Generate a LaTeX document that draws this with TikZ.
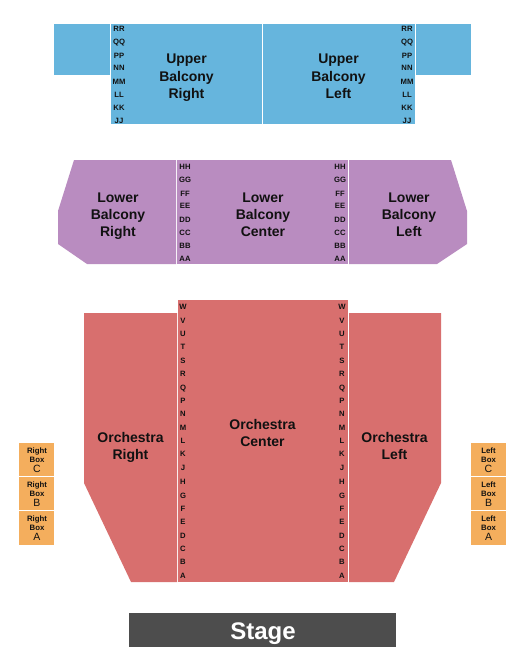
\documentclass[tikz,border=0pt]{standalone}
\usepackage{fontspec}
\setmainfont{Liberation Sans}
\definecolor{upperblue}{HTML}{66B5DD}
\definecolor{lowerpurple}{HTML}{B98CC0}
\definecolor{orchred}{HTML}{D86F6E}
\definecolor{boxorange}{HTML}{F4AE5D}
\definecolor{stagegray}{HTML}{4D4D4D}
\definecolor{labelink}{HTML}{111111}
\tikzset{
  upperfill/.style={fill=upperblue,draw=none},
  lowerfill/.style={fill=lowerpurple,draw=none},
  orchfill/.style={fill=orchred,draw=none},
  boxfill/.style={fill=boxorange,draw=none},
  sectionlabel/.style={anchor=north,align=center,text=labelink,inner sep=0pt,font=\fontsize{14}{17.3}\selectfont\bfseries},
  rowlabel/.style={anchor=base,text=labelink,inner sep=0pt,font=\fontsize{7.7}{8}\selectfont\bfseries},
  boxlabel/.style={anchor=north,align=center,text=labelink,inner sep=0pt,font=\fontsize{7.8}{8.7}\selectfont\bfseries},
  stagelabel/.style={anchor=base,text=white,inner sep=0pt,font=\fontsize{24}{25}\selectfont\bfseries}
}
\newcommand{\rowsat}[3]{%
  \foreach \lab/\yy in {#3}{\node[rowlabel] (row-#1-\lab) at (#2,\yy+3.8) {\lab};}}
\newcommand{\boxletter}[1]{\\[1.8pt]{\fontsize{10.5}{10.5}\selectfont\mdseries #1}}
\begin{document}
\begin{tikzpicture}[x=1pt,y=-1pt]
\useasboundingbox (0,0) rectangle (525,666);
% Upper balcony
\fill[upperfill] (54,24) rectangle (110,75);
\fill[upperfill] (111,24) rectangle (262,124);
\fill[upperfill] (263,24) rectangle (415,124);
\fill[upperfill] (416,24) rectangle (471,75);
\node[sectionlabel] (ubr) at (186.5,54) {Upper\\Balcony\\Right};
\node[sectionlabel] (ubl) at (338.5,54) {Upper\\Balcony\\Left};
\rowsat{ur}{119}{RR/28,QQ/41,PP/55,NN/67,MM/81,LL/94,KK/107,JJ/120}
\rowsat{ul}{407}{RR/28,QQ/41,PP/55,NN/67,MM/81,LL/94,KK/107,JJ/120}
% Lower balcony
\fill[lowerfill] (74,160) -- (176,160) -- (176,264) -- (87,264) -- (58,244) -- (58,211) -- cycle;
\fill[lowerfill] (177,160) rectangle (348,264);
\fill[lowerfill] (349,160) -- (451,160) -- (467,211) -- (467,244) -- (437,264) -- (349,264) -- cycle;
\node[sectionlabel] (lbr) at (118,192.3) {Lower\\Balcony\\Right};
\node[sectionlabel] (lbc) at (263,192.3) {Lower\\Balcony\\Center};
\node[sectionlabel] (lbl) at (409,192.3) {Lower\\Balcony\\Left};
\rowsat{lr}{185}{HH/166,GG/179,FF/193,EE/205,DD/219,CC/232,BB/245,AA/258}
\rowsat{ll}{340}{HH/166,GG/179,FF/193,EE/205,DD/219,CC/232,BB/245,AA/258}
% Orchestra
\fill[orchfill] (84,313) -- (177,313) -- (177,582) -- (131,582) -- (84,483) -- cycle;
\fill[orchfill] (178,300) rectangle (348,582);
\fill[orchfill] (349,313) -- (441,313) -- (441,483) -- (394,582) -- (349,582) -- cycle;
\node[sectionlabel] (orr) at (130.5,432) {Orchestra\\Right};
\node[sectionlabel] (orc) at (262.5,419) {Orchestra\\Center};
\node[sectionlabel] (orl) at (394.5,432) {Orchestra\\Left};
\rowsat{or}{183}{W/306,V/320,U/333,T/346,S/360,R/373,Q/387,P/400,N/413,M/427,L/440,K/453,J/467,H/481,G/495,F/508,E/521,D/535,C/548,B/561,A/575}
\rowsat{ol}{342}{W/306,V/320,U/333,T/346,S/360,R/373,Q/387,P/400,N/413,M/427,L/440,K/453,J/467,H/481,G/495,F/508,E/521,D/535,C/548,B/561,A/575}
% Boxes
\fill[boxfill] (19,443) rectangle (54,476);
\fill[boxfill] (19,477) rectangle (54,510);
\fill[boxfill] (19,511) rectangle (54,545);
\fill[boxfill] (471,443) rectangle (506,476);
\fill[boxfill] (471,477) rectangle (506,510);
\fill[boxfill] (471,511) rectangle (506,545);
\node[boxlabel] (rbc) at (37,447.5) {Right\\Box\boxletter{C}};
\node[boxlabel] (rbb) at (37,481.5) {Right\\Box\boxletter{B}};
\node[boxlabel] (rba) at (37,515.5) {Right\\Box\boxletter{A}};
\node[boxlabel] (lbxc) at (488.5,447.5) {Left\\Box\boxletter{C}};
\node[boxlabel] (lbxb) at (488.5,481.5) {Left\\Box\boxletter{B}};
\node[boxlabel] (lbxa) at (488.5,515.5) {Left\\Box\boxletter{A}};
% Stage
\fill[stagegray] (129,613) rectangle (396,647);
\node[stagelabel] (stage) at (263,639.5) {Stage};
\end{tikzpicture}
\end{document}
